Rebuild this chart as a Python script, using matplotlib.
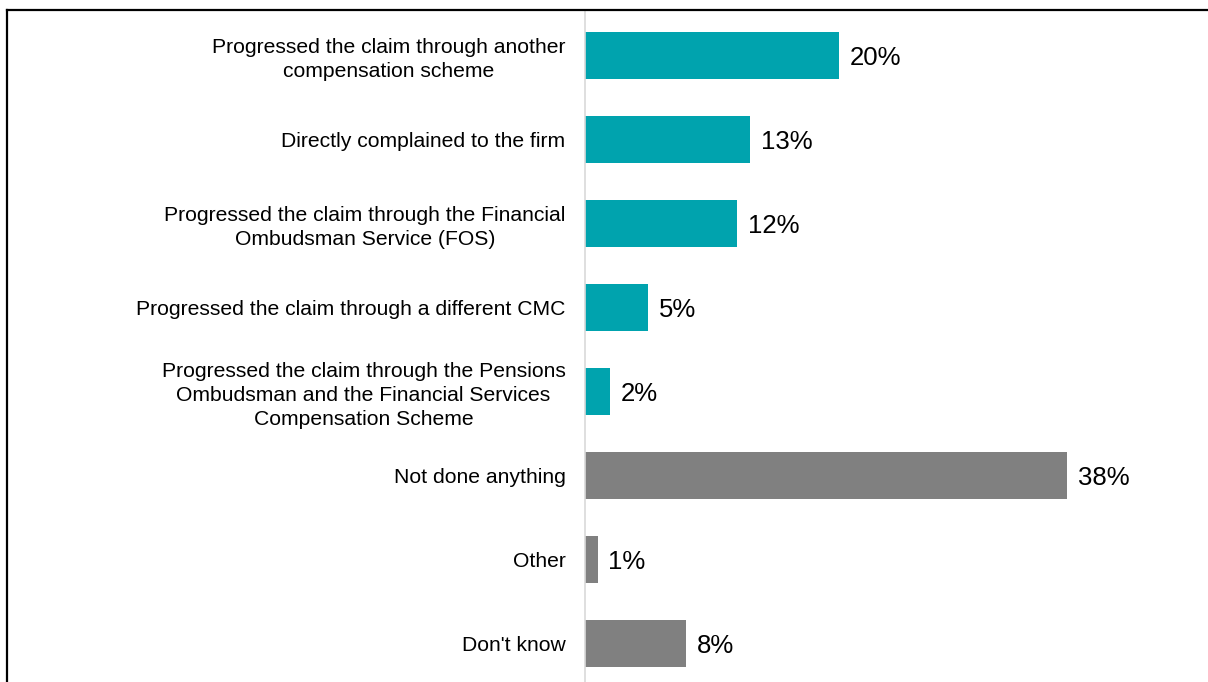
import matplotlib
matplotlib.use("Agg")
import matplotlib.pyplot as plt
from matplotlib.lines import Line2D

plt.rcParams['font.family'] = ['Liberation Sans', 'DejaVu Sans']

categories = [
    "Progressed the claim through another\ncompensation scheme",
    "Directly complained to the firm",
    "Progressed the claim through the Financial\nOmbudsman Service (FOS)",
    "Progressed the claim through a different CMC",
    "Progressed the claim through the Pensions\nOmbudsman and the Financial Services\nCompensation Scheme",
    "Not done anything",
    "Other",
    "Don't know",
]
values = [20, 13, 12, 5, 2, 38, 1, 8]
groups = ["action", "action", "action", "action", "action", "none", "none", "none"]

palette = {"action": "#00A3AE", "none": "#808080"}

W, H = 1208, 682
fig = plt.figure(figsize=(W / 100, H / 100), dpi=100)
ax = fig.add_axes([585 / W, 0, 1 - 585 / W, (H - 10) / H])

ypos = list(range(len(categories)))
ax.barh(ypos, values, height=0.56, color=[palette[g] for g in groups], zorder=2)

ax.set_xlim(0, (W - 585) / 12.68)
ax.set_ylim(7.464, -0.536)

for y, v in zip(ypos, values):
    ax.text(v + 0.85, y + 0.03, f"{v}%", va="center", ha="left", fontsize=18.5, color="#000000")

ax.set_yticks(ypos)
ax.set_yticklabels(categories, fontsize=15.2, linespacing=1.35)
ax.tick_params(axis="y", length=0, pad=14.0)
for lab in ax.get_yticklabels():
    lab.set_multialignment("center")
    lab.set_color("#000000")
ax.set_xticks([])

for s in ["top", "right", "bottom"]:
    ax.spines[s].set_visible(False)
ax.spines["left"].set_color("#d9d9d9")
ax.spines["left"].set_linewidth(1.2)

# outer frame
fig.add_artist(Line2D([7.5 / W, 7.5 / W], [0, 1 - 10 / H], color="black", lw=1.6,
                      transform=fig.transFigure))
fig.add_artist(Line2D([7.5 / W, 1], [1 - 10 / H, 1 - 10 / H], color="black", lw=1.6,
                      transform=fig.transFigure))

fig.savefig("out.png", dpi=100)
